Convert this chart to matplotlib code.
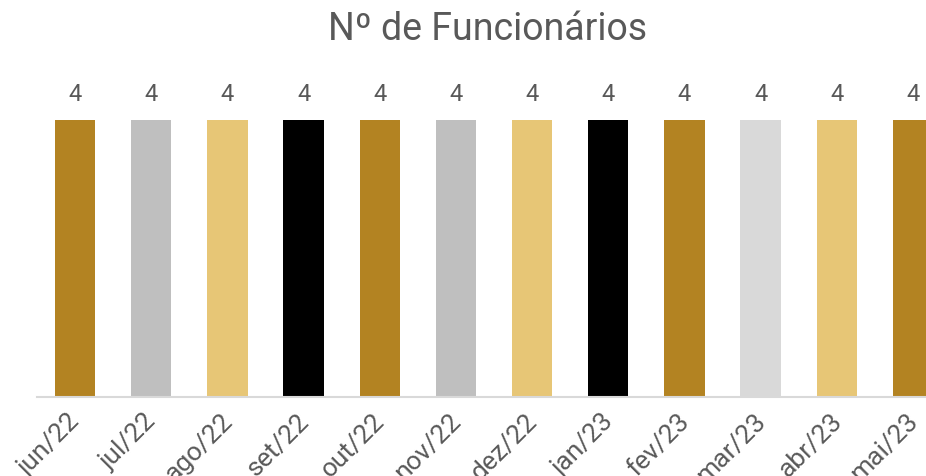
import matplotlib
matplotlib.use("Agg")
import matplotlib.pyplot as plt
import matplotlib.transforms as mtransforms

months = ["jun/22", "jul/22", "ago/22", "set/22", "out/22", "nov/22",
          "dez/22", "jan/23", "fev/23", "mar/23", "abr/23", "mai/23"]
values = [4, 4, 4, 4, 4, 4, 4, 4, 4, 4, 4, 4]
colors = ["#B38322", "#BFBFBF", "#E7C676", "#000000", "#B38322", "#BFBFBF",
          "#E7C676", "#000000", "#B38322", "#D9D9D9", "#E7C676", "#B38322"]

plt.rcParams['font.family'] = ['Roboto', 'DejaVu Sans']
txt = "#595959"

fig = plt.figure(figsize=(9.26, 4.76), dpi=100)
W, H = 926, 476
left_px, right_px = 37, 951
bottom_px = 397
ax = fig.add_axes([left_px / W, 1 - bottom_px / H, (right_px - left_px) / W, 311.6 / H])
x = list(range(len(months)))
bars = ax.bar(x, values, width=0.53, color=colors)
ax.set_xlim(-0.5, len(months) - 0.5)
ax.set_ylim(0, 4.5)
for xi, v in zip(x, values):
    ax.text(xi, v + 0.2, str(v), ha='center', va='bottom', fontsize=17, color=txt)
ax.set_yticks([])
ax.set_xticks(x)
ax.set_xticklabels(months, rotation=45, ha='right', va='top', rotation_mode='anchor',
                   fontsize=19, color=txt)
ax.tick_params(axis='x', length=0, pad=9)
offset = mtransforms.ScaledTranslation(-5 / 72, 0, fig.dpi_scale_trans)
for lbl in ax.get_xticklabels():
    lbl.set_transform(lbl.get_transform() + offset)
for s in ['top', 'right', 'left']:
    ax.spines[s].set_visible(False)
ax.spines['bottom'].set_color('#D9D9D9')
ax.spines['bottom'].set_linewidth(1.5)
fig.text(488 / W, 1 - 30 / H, "Nº de Funcionários", ha='center', va='center',
         fontsize=27, color=txt)
fig.savefig("out.png", dpi=100)
